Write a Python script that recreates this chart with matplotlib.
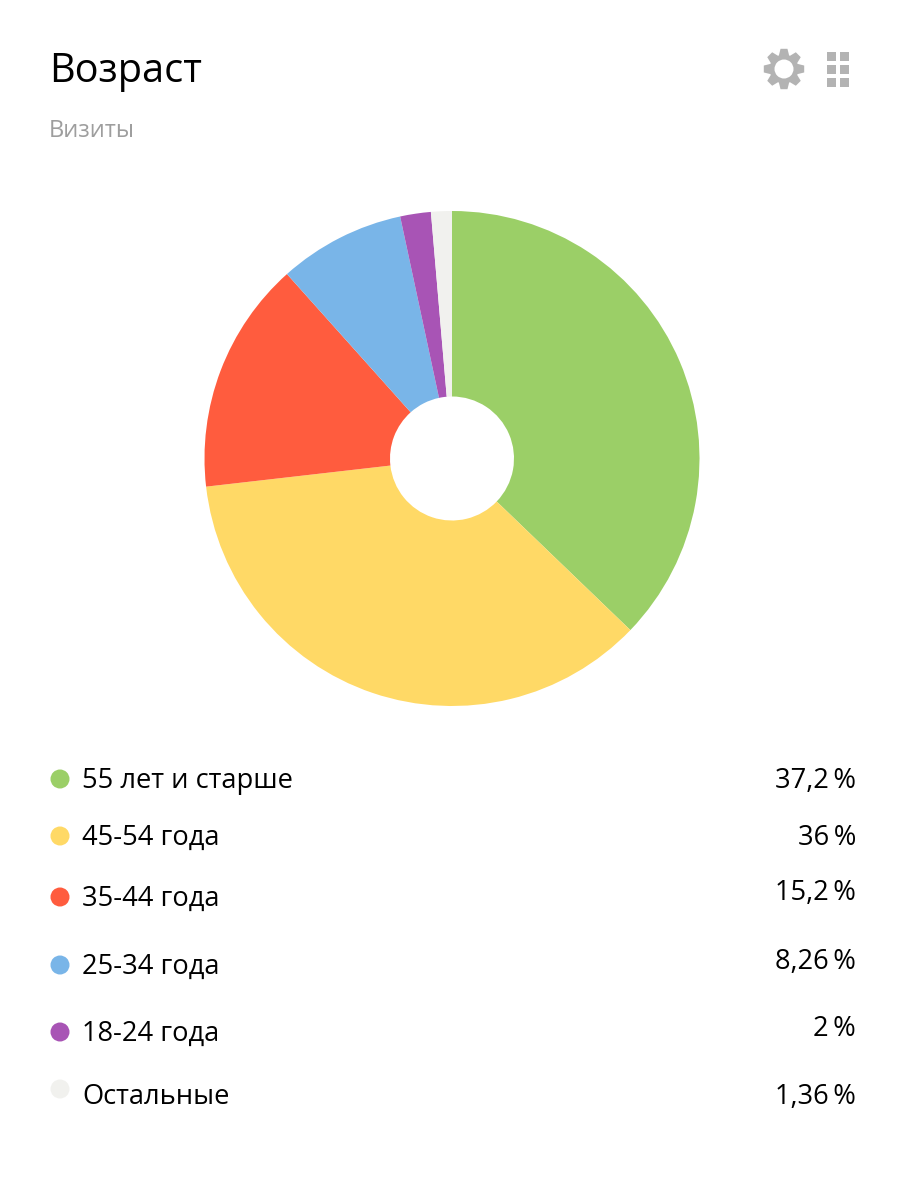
import numpy as np
import matplotlib
matplotlib.use("Agg")
import matplotlib.pyplot as plt
from matplotlib.patches import Circle, Polygon, Rectangle

plt.rcParams["font.family"] = ["Open Sans", "DejaVu Sans"]

# Data
labels = ["55 лет и старше", "45-54 года", "35-44 года", "25-34 года", "18-24 года", "Остальные"]
values = [37.2, 36, 15.2, 8.26, 2, 1.36]
value_labels = ["37,2\u2009%", "36\u2009%", "15,2\u2009%", "8,26\u2009%", "2\u2009%", "1,36\u2009%"]
colors = ["#9bcf67", "#ffd966", "#ff5c3e", "#79b5e8", "#a854b5", "#f1f1ee"]
title = "Возраст"
subtitle = "Визиты"

W, H = 916, 1177
fig = plt.figure(figsize=(W / 100, H / 100), dpi=100, facecolor="white")

# overlay axes in pixel coordinates for text and icons
bg = fig.add_axes([0, 0, 1, 1])
bg.set_xlim(0, W)
bg.set_ylim(H, 0)
bg.axis("off")

# donut
cx, cy, r, hole = 452, 458.5, 247.5, 62
ax = fig.add_axes([(cx - r) / W, 1 - (cy + r) / H, 2 * r / W, 2 * r / H])
ax.pie(values, colors=colors, startangle=90, counterclock=False, radius=1,
       wedgeprops=dict(width=1 - hole / r, linewidth=0))
ax.set_xlim(-1, 1)
ax.set_ylim(-1, 1)
ax.set_aspect("equal")
ax.axis("off")

bg.text(49, 72, title, fontsize=28.6, color="black", va="center", ha="left")
bg.text(49, 131, subtitle, fontsize=17, color="#9e9e9e", va="center", ha="left")

# legend rows, the row positions in the original are uneven
dot_y = [779, 836, 897, 965, 1032, 1089]
label_y = [781, 838, 899, 967, 1034, 1097]
value_y = [781, 838, 893, 962, 1029, 1097]
for i in range(len(labels)):
    bg.add_patch(Circle((60, dot_y[i]), 9.5, color=colors[i], lw=0))
    bg.text(82, label_y[i], labels[i], fontsize=19.6, color="black", va="center", ha="left")
    bg.text(856, value_y[i], value_labels[i], fontsize=19.6, color="black", va="center", ha="right")

# gear icon
icon = "#b3b3b3"
n = 8
pts = []
for k in range(n):
    a = 2 * np.pi * k / n - np.pi / 2
    for da, rad in [(-0.36, 14.5), (-0.17, 20.5), (0.17, 20.5), (0.36, 14.5)]:
        pts.append((784 + rad * np.cos(a + da), 69 + rad * np.sin(a + da)))
bg.add_patch(Polygon(pts, closed=True, color=icon, lw=0))
bg.add_patch(Circle((784, 69), 9.5, color="white", lw=0))

# grid icon
for gx in [827, 840]:
    for gy in [52, 65, 78]:
        bg.add_patch(Rectangle((gx, gy), 9, 9, color=icon, lw=0))

fig.savefig("out.png", dpi=100)
